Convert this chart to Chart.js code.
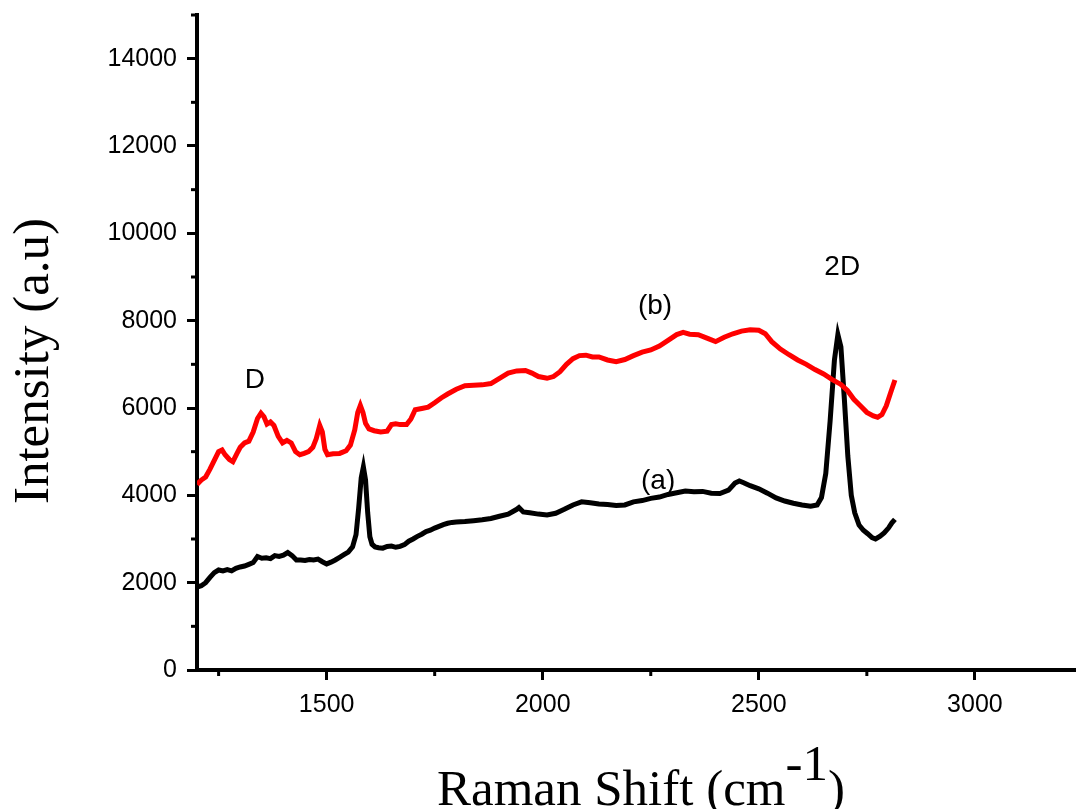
<!DOCTYPE html>
<html>
<head>
<meta charset="utf-8">
<script src="https://cdn.jsdelivr.net/npm/chart.js@4.4.0/dist/chart.umd.min.js"></script>
<style>
  body { margin: 0; background: #fff; }
  #wrap { width: 1076px; height: 809px; }
</style>
</head>
<body>
<div id="wrap"><canvas id="raman" width="1076" height="809"></canvas></div>
<script>
// Raman shift (cm-1) and intensity for curve (a), black
var shiftA = [1200,1210,1220,1230,1240,1250,1260,1270,1280,1290,1300,1310,1320,1330,1340,1350,1360,1370,1380,1390,1400,1410,1420,1430,1440,1450,1460,1470,1480,1490,1500,1510,1520,1530,1540,1550,1560,1568,1574,1580,1585,1590,1595,1600,1605,1612,1620,1630,1640,1650,1660,1670,1680,1690,1700,1710,1720,1730,1740,1750,1760,1770,1780,1790,1800,1820,1840,1860,1880,1900,1920,1940,1945,1955,1970,1990,2010,2030,2050,2070,2090,2110,2130,2150,2170,2190,2210,2230,2250,2270,2290,2310,2330,2350,2370,2390,2410,2430,2445,2455,2465,2480,2500,2520,2540,2560,2580,2600,2620,2635,2645,2655,2665,2675,2683,2690,2698,2706,2714,2722,2732,2742,2752,2762,2770,2780,2790,2800,2808,2815];
var intensityA = [1900,1930,2000,2120,2230,2290,2270,2300,2270,2330,2360,2380,2420,2460,2600,2560,2570,2550,2620,2600,2630,2690,2620,2520,2520,2510,2530,2520,2540,2480,2430,2470,2520,2580,2640,2700,2820,3100,3700,4400,4650,4350,3600,3050,2880,2820,2800,2790,2830,2840,2810,2830,2870,2950,3000,3060,3110,3170,3200,3250,3290,3330,3360,3380,3390,3400,3420,3440,3470,3520,3570,3680,3720,3620,3600,3570,3550,3590,3680,3780,3850,3830,3800,3790,3770,3780,3850,3880,3930,3960,4020,4060,4100,4080,4090,4050,4040,4120,4280,4330,4290,4220,4150,4050,3940,3870,3820,3780,3750,3780,3950,4500,5700,7100,7680,7400,6200,4900,4000,3600,3320,3200,3120,3030,3000,3060,3140,3250,3370,3450];

// curve (b), red
var shiftB = [1200,1210,1220,1230,1240,1250,1258,1265,1275,1283,1292,1300,1310,1320,1330,1340,1348,1355,1362,1370,1378,1388,1398,1408,1418,1428,1438,1448,1458,1468,1476,1484,1490,1496,1502,1515,1530,1545,1555,1565,1572,1578,1584,1590,1598,1610,1625,1640,1650,1660,1670,1685,1695,1705,1720,1735,1750,1765,1780,1800,1820,1840,1860,1880,1900,1920,1940,1960,1975,1990,2010,2025,2040,2055,2070,2085,2100,2115,2130,2150,2170,2190,2210,2230,2250,2270,2290,2310,2325,2340,2360,2380,2400,2420,2440,2460,2480,2500,2515,2530,2550,2570,2590,2610,2630,2650,2670,2690,2705,2720,2735,2750,2765,2775,2785,2795,2805,2815];
var intensityB = [4250,4350,4420,4600,4800,5000,5040,4930,4820,4770,4950,5100,5200,5240,5450,5760,5880,5800,5630,5680,5600,5350,5200,5260,5200,5000,4930,4960,5000,5100,5300,5600,5450,5050,4930,4950,4960,5020,5150,5500,5900,6060,5900,5650,5520,5480,5450,5470,5620,5640,5620,5620,5750,5960,5990,6020,6120,6230,6320,6430,6510,6520,6530,6560,6680,6800,6850,6860,6800,6720,6680,6720,6830,7000,7130,7200,7210,7170,7170,7100,7060,7110,7200,7280,7330,7420,7550,7680,7730,7690,7680,7600,7520,7620,7700,7760,7790,7780,7700,7520,7350,7220,7100,7000,6880,6780,6650,6540,6400,6200,6050,5900,5820,5790,5850,6050,6350,6640];

var xTicks = [1500, 2000, 2500, 3000];
var xMinor = [1250, 1750, 2250, 2750];
var yTicks = [0, 2000, 4000, 6000, 8000, 10000, 12000, 14000];
var yMinor = [1000, 3000, 5000, 7000, 9000, 11000, 13000, 15000];

// peak / curve labels placed in data units
var labelText = ['D', '(b)', '2D', '(a)'];
var labelX = [1334, 2260, 2693, 2267];
var labelY = [6640, 8320, 9230, 4330];

function toPoints(xs, ys) {
    return xs.map(function(x, i) { return { x: x, y: ys[i] }; });
}

var tickFont = { family: '"Liberation Sans", Arial, sans-serif', size: 25 };
function plain(v) { return String(v); }

// minor ticks, axis titles and peak labels
var extras = {
    id: 'extras',
    afterDraw: function(chart) {
        var ctx = chart.ctx;
        var xs = chart.scales.x, ys = chart.scales.y;
        var area = chart.chartArea;
        ctx.save();
        ctx.strokeStyle = '#000';
        ctx.lineWidth = 3;
        xMinor.forEach(function(v) {
            var px = xs.getPixelForValue(v);
            ctx.beginPath(); ctx.moveTo(px, area.bottom); ctx.lineTo(px, area.bottom + 6); ctx.stroke();
        });
        yMinor.forEach(function(v) {
            var py = ys.getPixelForValue(v);
            ctx.beginPath(); ctx.moveTo(area.left, py); ctx.lineTo(area.left - 6, py); ctx.stroke();
        });

        ctx.fillStyle = '#000';
        ctx.font = '28px "Liberation Sans", Arial, sans-serif';
        ctx.textAlign = 'center';
        ctx.textBaseline = 'middle';
        labelText.forEach(function(t, i) {
            ctx.fillText(t, xs.getPixelForValue(labelX[i]), ys.getPixelForValue(labelY[i]));
        });

        // y title
        ctx.save();
        ctx.translate(48, 361);
        ctx.rotate(-Math.PI / 2);
        ctx.textBaseline = 'alphabetic';
        ctx.font = '51px "Liberation Serif", "Times New Roman", serif';
        ctx.fillText('Intensity (a.u)', 0, 0);
        ctx.restore();

        // x title with superscript
        ctx.font = '51px "Liberation Serif", "Times New Roman", serif';
        ctx.textAlign = 'left';
        ctx.textBaseline = 'alphabetic';
        var main = 'Raman Shift (cm', sup = '-1', end = ')';
        var w1 = ctx.measureText(main).width, w2 = ctx.measureText(sup).width, w3 = ctx.measureText(end).width;
        var x0 = 641 - (w1 + w2 + w3) / 2;
        ctx.fillText(main, x0, 805);
        ctx.fillText(sup, x0 + w1, 780);
        ctx.fillText(end, x0 + w1 + w2, 805);
        ctx.restore();
    }
};

var ctx = document.getElementById('raman').getContext('2d');
var ramanChart = new Chart(ctx, {
    type: 'scatter',
    data: {
        datasets: [{
            label: '(b)',
            data: toPoints(shiftB, intensityB),
            borderColor: '#ff0000',
            borderWidth: 5,
            showLine: true,
            pointRadius: 0,
            tension: 0
        }, {
            label: '(a)',
            data: toPoints(shiftA, intensityA),
            borderColor: '#000000',
            borderWidth: 5,
            showLine: true,
            pointRadius: 0,
            tension: 0
        }]
    },
    options: {
        responsive: false,
        animation: false,
        layout: { padding: { top: 15, left: 0, right: 0, bottom: 0 } },
        plugins: { legend: { display: false }, tooltip: { enabled: false } },
        scales: {
            x: {
                type: 'linear',
                min: 1200,
                max: 3234,
                afterBuildTicks: function(s) { s.ticks = xTicks.map(function(v) { return { value: v }; }); },
                afterFit: function(s) { s.height = 139; s.paddingLeft = 0; s.paddingRight = 0; },
                grid: { drawOnChartArea: false, drawTicks: true, tickLength: 10, tickWidth: 3, tickColor: '#000' },
                border: { display: true, color: '#000', width: 4 },
                ticks: { color: '#000', font: tickFont, padding: 10, maxRotation: 0, callback: plain }
            },
            y: {
                min: 0,
                max: 15000,
                afterBuildTicks: function(s) { s.ticks = yTicks.map(function(v) { return { value: v }; }); },
                afterFit: function(s) { s.width = 197; s.paddingTop = 0; s.paddingBottom = 0; },
                grid: { drawOnChartArea: false, drawTicks: true, tickLength: 10, tickWidth: 3, tickColor: '#000' },
                border: { display: true, color: '#000', width: 4 },
                ticks: { color: '#000', font: tickFont, padding: 10, callback: plain }
            }
        }
    },
    plugins: [extras]
});
</script>
</body>
</html>
